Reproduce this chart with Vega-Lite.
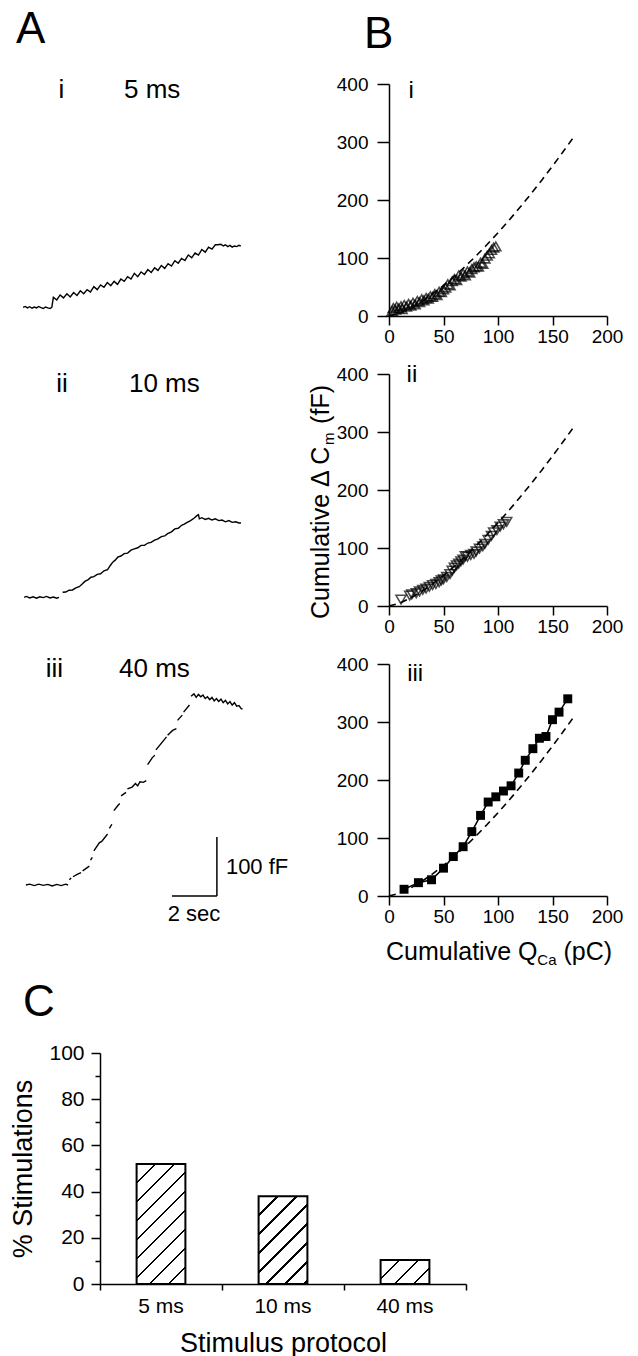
{
  "$schema": "https://vega.github.io/schema/vega-lite/v6.json",
  "background": "white",
  "padding": {"left": 9, "top": 8, "right": 5, "bottom": 0},
  "config": {
    "view": {"stroke": null},
    "font": "Liberation Sans",
    "axis": {"grid": false, "domainColor": "black", "domainWidth": 1.5, "tickColor": "black", "tickWidth": 1.5, "labelColor": "black", "titleColor": "black", "titleFontWeight": "normal", "labelFont": "Liberation Sans", "titleFont": "Liberation Sans"},
    "title": {"color": "black", "fontWeight": "normal", "font": "Liberation Sans"},
    "text": {"color": "black", "font": "Liberation Sans"}
  },
  "datasets": {
    "ai": [
      {"t":0.0,"v":0},{"t":0.1,"v":1.5},{"t":0.2,"v":-1},{"t":0.3,"v":1},{"t":0.4,"v":-1.5},{"t":0.5,"v":0.5},{"t":0.6,"v":-1},{"t":0.7,"v":1.5},{"t":0.8,"v":-0.5},{"t":0.9,"v":-2},{"t":1.0,"v":0.5},{"t":1.1,"v":-1},{"t":1.2,"v":-2},{"t":1.28,"v":0},
      {"t":1.35,"v":17},{"t":1.5,"v":12.5},{"t":1.65,"v":21},{"t":1.8,"v":16},{"t":1.95,"v":23},{"t":2.1,"v":17.6},{"t":2.25,"v":25},{"t":2.4,"v":20},{"t":2.55,"v":28},{"t":2.7,"v":23},{"t":2.85,"v":30},{"t":3.0,"v":26},{"t":3.15,"v":35},{"t":3.3,"v":30},{"t":3.45,"v":38},{"t":3.6,"v":34},{"t":3.75,"v":42},{"t":3.9,"v":36.5},{"t":4.05,"v":44},{"t":4.2,"v":39},{"t":4.35,"v":48},{"t":4.5,"v":44},{"t":4.65,"v":52},{"t":4.8,"v":48},{"t":4.95,"v":57.6},{"t":5.1,"v":52},{"t":5.25,"v":60},{"t":5.4,"v":55.7},{"t":5.55,"v":64},{"t":5.7,"v":59},{"t":5.85,"v":67},{"t":6.0,"v":62.6},{"t":6.15,"v":71},{"t":6.3,"v":66},{"t":6.45,"v":74},{"t":6.6,"v":70},{"t":6.75,"v":79},{"t":6.9,"v":74.7},{"t":7.05,"v":83},{"t":7.2,"v":79.4},{"t":7.35,"v":88.7},{"t":7.5,"v":84},{"t":7.65,"v":92},{"t":7.8,"v":88.5},{"t":7.95,"v":98},{"t":8.1,"v":93.5},{"t":8.25,"v":102},{"t":8.4,"v":98.7},{"t":8.55,"v":106},
      {"t":8.65,"v":106},{"t":8.8,"v":107},{"t":8.9,"v":104},{"t":9.0,"v":106},{"t":9.1,"v":103},{"t":9.2,"v":105},{"t":9.3,"v":102},{"t":9.4,"v":104},{"t":9.5,"v":103},{"t":9.6,"v":105},{"t":9.68,"v":104}
    ],
    "aii": [
      {"t":0.05,"v":0},{"t":0.15,"v":1.5},{"t":0.3,"v":-1},{"t":0.45,"v":1},{"t":0.6,"v":-1.5},{"t":0.75,"v":1},{"t":0.9,"v":-0.5},{"t":1.05,"v":1.5},{"t":1.2,"v":-1},{"t":1.35,"v":0.5},{"t":1.5,"v":-1.5},{"t":1.6,"v":0},
      {"t":1.68,"v":null},
      {"t":1.76,"v":8.5},{"t":1.9,"v":9},{"t":2.05,"v":12},{"t":2.2,"v":12.5},{"t":2.35,"v":16},{"t":2.5,"v":18},{"t":2.62,"v":22},{"t":2.75,"v":27},{"t":2.9,"v":30},{"t":3.02,"v":34},{"t":3.15,"v":35},{"t":3.3,"v":39},{"t":3.45,"v":40},{"t":3.6,"v":45},{"t":3.76,"v":47},{"t":3.88,"v":54},{"t":4.0,"v":60},{"t":4.1,"v":63},{"t":4.21,"v":68},{"t":4.35,"v":70},{"t":4.5,"v":74},{"t":4.65,"v":75},{"t":4.8,"v":80},{"t":4.95,"v":82},{"t":5.1,"v":84},{"t":5.25,"v":88},{"t":5.4,"v":88},{"t":5.55,"v":92},{"t":5.69,"v":93},{"t":5.85,"v":97},{"t":6.0,"v":99},{"t":6.15,"v":103},{"t":6.3,"v":104},{"t":6.43,"v":108},{"t":6.6,"v":111},{"t":6.75,"v":116},{"t":6.9,"v":117},{"t":7.05,"v":122},{"t":7.17,"v":124},{"t":7.3,"v":127},{"t":7.45,"v":130},{"t":7.6,"v":134},{"t":7.72,"v":138},{"t":7.8,"v":140},
      {"t":7.84,"v":133},{"t":7.95,"v":135},{"t":8.1,"v":132},{"t":8.25,"v":134},{"t":8.4,"v":131},{"t":8.55,"v":133},{"t":8.7,"v":130},{"t":8.85,"v":131},{"t":9.0,"v":128},{"t":9.15,"v":130},{"t":9.3,"v":127},{"t":9.45,"v":128},{"t":9.6,"v":126},{"t":9.69,"v":126}
    ],
    "aiii": [
      {"t":0.13,"v":0},{"t":0.3,"v":1.5},{"t":0.5,"v":-1},{"t":0.7,"v":1.5},{"t":0.9,"v":-0.5},{"t":1.1,"v":1},{"t":1.3,"v":-1.5},{"t":1.5,"v":1},{"t":1.7,"v":-1},{"t":1.9,"v":1.5},{"t":2.0,"v":0},
      {"t":2.03,"v":null},
      {"t":2.06,"v":9},{"t":2.14,"v":12},
      {"t":2.17,"v":null},
      {"t":2.22,"v":14},{"t":2.43,"v":18.6},{"t":2.58,"v":21},
      {"t":2.61,"v":null},
      {"t":2.65,"v":24},{"t":2.95,"v":32},
      {"t":2.98,"v":null},
      {"t":3.0,"v":42},{"t":3.08,"v":47},
      {"t":3.11,"v":null},
      {"t":3.15,"v":58},{"t":3.4,"v":72},{"t":3.5,"v":74},{"t":3.76,"v":86.4},
      {"t":3.8,"v":null},
      {"t":3.84,"v":96},{"t":3.95,"v":103},
      {"t":3.99,"v":null},
      {"t":4.04,"v":126},{"t":4.2,"v":134},{"t":4.3,"v":138},
      {"t":4.33,"v":null},
      {"t":4.36,"v":151},{"t":4.58,"v":157},
      {"t":4.61,"v":null},
      {"t":4.64,"v":163},{"t":4.85,"v":166},{"t":5.0,"v":172},{"t":5.1,"v":168},{"t":5.2,"v":175},{"t":5.35,"v":174},{"t":5.48,"v":177},
      {"t":5.51,"v":null},
      {"t":5.54,"v":204},{"t":5.75,"v":216},{"t":5.86,"v":220},
      {"t":5.89,"v":null},
      {"t":5.91,"v":229},{"t":6.1,"v":238},{"t":6.38,"v":251},
      {"t":6.41,"v":null},
      {"t":6.43,"v":254},{"t":6.65,"v":262},{"t":6.82,"v":265},
      {"t":6.85,"v":null},
      {"t":6.87,"v":279},{"t":7.08,"v":288},
      {"t":7.11,"v":null},
      {"t":7.14,"v":293},{"t":7.4,"v":305},
      {"t":7.44,"v":null},
      {"t":7.47,"v":320},{"t":7.6,"v":324},{"t":7.7,"v":318},{"t":7.8,"v":323},{"t":7.9,"v":319},{"t":8.0,"v":322},{"t":8.1,"v":316},{"t":8.2,"v":319},{"t":8.3,"v":314},{"t":8.4,"v":318},{"t":8.5,"v":312},{"t":8.6,"v":316},{"t":8.7,"v":311},{"t":8.8,"v":315},{"t":8.9,"v":309},{"t":9.0,"v":313},{"t":9.1,"v":307},{"t":9.2,"v":311},{"t":9.3,"v":305},{"t":9.4,"v":309},{"t":9.5,"v":303},{"t":9.6,"v":304},{"t":9.7,"v":299},{"t":9.76,"v":298}
    ],
    "fit": [
      {"q":0,"cm":0},{"q":10,"cm":5.1},{"q":20,"cm":13.9},{"q":30,"cm":25},{"q":40,"cm":38},{"q":50,"cm":52.5},{"q":60,"cm":68.5},{"q":70,"cm":85.6},{"q":80,"cm":103.9},{"q":90,"cm":123.2},{"q":100,"cm":143.5},{"q":110,"cm":164.8},{"q":120,"cm":187},{"q":130,"cm":210},{"q":140,"cm":233.8},{"q":150,"cm":258.4},{"q":160,"cm":283.9},{"q":170,"cm":310}
    ],
    "bi": [
      {"q":3,"cm":9},{"q":4,"cm":14},{"q":6,"cm":11},{"q":7,"cm":16},{"q":9,"cm":13},{"q":11,"cm":17},{"q":12,"cm":12},{"q":14,"cm":19},{"q":16,"cm":16},{"q":18,"cm":21},{"q":20,"cm":18},{"q":22,"cm":23},{"q":24,"cm":20},{"q":26,"cm":26},{"q":28,"cm":24},{"q":30,"cm":29},{"q":32,"cm":27},{"q":34,"cm":31},{"q":36,"cm":30},{"q":38,"cm":34},{"q":40,"cm":33},{"q":42,"cm":38},{"q":44,"cm":36},{"q":46,"cm":42},{"q":48,"cm":41},{"q":50,"cm":46},{"q":52,"cm":49},{"q":54,"cm":55},{"q":56,"cm":53},{"q":58,"cm":60},{"q":60,"cm":64},{"q":62,"cm":62},{"q":64,"cm":70},{"q":66,"cm":68},{"q":68,"cm":73},{"q":70,"cm":70},{"q":72,"cm":77},{"q":74,"cm":75},{"q":76,"cm":81},{"q":78,"cm":84},{"q":80,"cm":86},{"q":82,"cm":85},{"q":84,"cm":92},{"q":86,"cm":90},{"q":88,"cm":99},{"q":90,"cm":104},{"q":92,"cm":108},{"q":94,"cm":114},{"q":96,"cm":118},{"q":98,"cm":120}
    ],
    "bii": [
      {"q":11,"cm":11},{"q":19,"cm":18},{"q":21,"cm":20},{"q":25,"cm":22},{"q":28,"cm":25},{"q":31,"cm":28},{"q":34,"cm":30},{"q":37,"cm":33},{"q":40,"cm":36},{"q":43,"cm":38},{"q":46,"cm":41},{"q":48,"cm":44},{"q":50,"cm":46},{"q":53,"cm":50},{"q":56,"cm":55},{"q":58,"cm":61},{"q":60,"cm":66},{"q":62,"cm":70},{"q":64,"cm":73},{"q":66,"cm":77},{"q":68,"cm":80},{"q":70,"cm":86},{"q":72,"cm":85},{"q":75,"cm":88},{"q":78,"cm":90},{"q":80,"cm":94},{"q":83,"cm":99},{"q":86,"cm":103},{"q":88,"cm":107},{"q":91,"cm":114},{"q":94,"cm":121},{"q":96,"cm":127},{"q":99,"cm":131},{"q":102,"cm":137},{"q":105,"cm":141},{"q":108,"cm":145}
    ],
    "biii": [
      {"q":13.8,"cm":11.6},{"q":27,"cm":23},{"q":39,"cm":28},{"q":50,"cm":48},{"q":59,"cm":68},{"q":68,"cm":85},{"q":76,"cm":111},{"q":84,"cm":139},{"q":91,"cm":162},{"q":98,"cm":171},{"q":105,"cm":181},{"q":112,"cm":190},{"q":119,"cm":212},{"q":125,"cm":234},{"q":132,"cm":254},{"q":138,"cm":272},{"q":144,"cm":275},{"q":150,"cm":304},{"q":156,"cm":317},{"q":164,"cm":340}
    ],
    "stim": [
      {"protocol":"5 ms","pct":52},{"protocol":"10 ms","pct":38},{"protocol":"40 ms","pct":10.4}
    ]
  },
  "columns": 1,
  "spacing": 12,
  "concat": [
    {
      "columns": 2,
      "spacing": {"row": 58, "column": 146},
      "bounds": "flush",
      "concat": [
        {
          "width": 220, "height": 232,
          "title": {"text": "A", "fontSize": 44, "anchor": "start", "frame": "group", "dx": -7, "offset": 25},
          "layer": [
            {"data": {"name": "ai"}, "mark": {"type": "line", "color": "black", "strokeWidth": 1.4},
             "encoding": {"x": {"field": "t", "type": "quantitative", "scale": {"domain": [0, 9.78], "nice": false, "zero": false}, "axis": null},
                          "y": {"field": "v", "type": "quantitative", "scale": {"domain": [-14.7, 378.5], "nice": false, "zero": false}, "axis": null}}},
            {"data": {"values": [{}]}, "mark": {"type": "text", "fontSize": 26, "align": "center", "baseline": "alphabetic"},
             "encoding": {"x": {"datum": 1.71}, "y": {"datum": 354.7}, "text": {"value": "i"}}},
            {"data": {"values": [{}]}, "mark": {"type": "text", "fontSize": 26, "align": "left", "baseline": "alphabetic"},
             "encoding": {"x": {"datum": 4.49}, "y": {"datum": 354.7}, "text": {"value": "5 ms"}}}
          ]
        },
        {
          "width": 218, "height": 232,
          "title": {"text": "B", "fontSize": 44, "anchor": "start", "frame": "group", "dx": -25, "offset": 18},
          "layer": [
            {"data": {"name": "fit"}, "mark": {"type": "line", "color": "black", "strokeDash": [7, 5], "strokeWidth": 1.6},
             "encoding": {
               "x": {"field": "q", "type": "quantitative", "scale": {"domain": [0, 200], "nice": false},
                     "axis": {"title": null, "values": [0,25,50,75,100,125,150,175,200], "labelExpr": "datum.value % 50 === 0 ? datum.label : ''", "tickSize": {"condition": {"test": "datum.value % 50 === 0", "value": 9}, "value": 5}, "labelFontSize": 19, "labelPadding": 2, "labelFlush": false}},
               "y": {"field": "cm", "type": "quantitative", "scale": {"domain": [0, 400], "nice": false},
                     "axis": {"title": null, "values": [0,50,100,150,200,250,300,350,400], "labelExpr": "datum.value % 100 === 0 ? datum.label : ''", "tickSize": {"condition": {"test": "datum.value % 100 === 0", "value": 12}, "value": 5}, "labelFontSize": 19, "labelPadding": 9, "labelFlush": false}}}},
            {"data": {"name": "bi"}, "mark": {"type": "point", "shape": "triangle-up", "size": 100, "color": "black", "filled": false, "strokeWidth": 1.6},
             "encoding": {"x": {"field": "q", "type": "quantitative"}, "y": {"field": "cm", "type": "quantitative"}}},
            {"data": {"values": [{}]}, "mark": {"type": "text", "fontSize": 24, "align": "center", "baseline": "alphabetic"},
             "encoding": {"x": {"datum": 20.3}, "y": {"datum": 376}, "text": {"value": "i"}}}
          ]
        },
        {
          "width": 220, "height": 232,
          "layer": [
            {"data": {"name": "aii"}, "mark": {"type": "line", "color": "black", "strokeWidth": 1.4},
             "encoding": {"x": {"field": "t", "type": "quantitative", "scale": {"domain": [0, 9.78], "nice": false, "zero": false}, "axis": null},
                          "y": {"field": "v", "type": "quantitative", "scale": {"domain": [-14.7, 378.5], "nice": false, "zero": false}, "axis": null}}},
            {"data": {"values": [{}]}, "mark": {"type": "text", "fontSize": 26, "align": "center", "baseline": "alphabetic"},
             "encoding": {"x": {"datum": 1.73}, "y": {"datum": 347.5}, "text": {"value": "ii"}}},
            {"data": {"values": [{}]}, "mark": {"type": "text", "fontSize": 26, "align": "left", "baseline": "alphabetic"},
             "encoding": {"x": {"datum": 4.71}, "y": {"datum": 347.5}, "text": {"value": "10 ms"}}}
          ]
        },
        {
          "width": 218, "height": 232,
          "layer": [
            {"data": {"name": "fit"}, "mark": {"type": "line", "color": "black", "strokeDash": [7, 5], "strokeWidth": 1.6},
             "encoding": {
               "x": {"field": "q", "type": "quantitative", "scale": {"domain": [0, 200], "nice": false},
                     "axis": {"title": null, "values": [0,25,50,75,100,125,150,175,200], "labelExpr": "datum.value % 50 === 0 ? datum.label : ''", "tickSize": {"condition": {"test": "datum.value % 50 === 0", "value": 9}, "value": 5}, "labelFontSize": 19, "labelPadding": 2, "labelFlush": false}},
               "y": {"field": "cm", "type": "quantitative", "scale": {"domain": [0, 400], "nice": false},
                     "axis": {"title": null, "values": [0,50,100,150,200,250,300,350,400], "labelExpr": "datum.value % 100 === 0 ? datum.label : ''", "tickSize": {"condition": {"test": "datum.value % 100 === 0", "value": 12}, "value": 5}, "labelFontSize": 19, "labelPadding": 9, "labelFlush": false}}}},
            {"data": {"name": "bii"}, "mark": {"type": "point", "shape": "triangle-down", "size": 100, "color": "black", "filled": false, "strokeWidth": 1.6},
             "encoding": {"x": {"field": "q", "type": "quantitative"}, "y": {"field": "cm", "type": "quantitative"}}},
            {"data": {"values": [{}]}, "mark": {"type": "text", "fontSize": 24, "align": "center", "baseline": "alphabetic"},
             "encoding": {"x": {"datum": 21}, "y": {"datum": 386}, "text": {"value": "ii"}}},
            {"data": {"values": [{}]}, "mark": {"type": "text", "fontSize": 25, "align": "left", "baseline": "alphabetic", "angle": 270},
             "encoding": {"x": {"datum": -55}, "y": {"datum": -22.4}, "text": {"value": "Cumulative Δ C"}}},
            {"data": {"values": [{}]}, "mark": {"type": "text", "fontSize": 15, "align": "left", "baseline": "alphabetic", "angle": 270},
             "encoding": {"x": {"datum": -50.4}, "y": {"datum": 277.6}, "text": {"value": "m"}}},
            {"data": {"values": [{}]}, "mark": {"type": "text", "fontSize": 25, "align": "left", "baseline": "alphabetic", "angle": 270},
             "encoding": {"x": {"datum": -55}, "y": {"datum": 314}, "text": {"value": "(fF)"}}}
          ]
        },
        {
          "width": 220, "height": 232,
          "layer": [
            {"data": {"name": "aiii"}, "mark": {"type": "line", "color": "black", "strokeWidth": 1.4},
             "encoding": {"x": {"field": "t", "type": "quantitative", "scale": {"domain": [0, 9.78], "nice": false, "zero": false}, "axis": null},
                          "y": {"field": "v", "type": "quantitative", "scale": {"domain": [-18.6, 374.6], "nice": false, "zero": false}, "axis": null}}},
            {"data": {"values": [{}]}, "mark": {"type": "text", "fontSize": 26, "align": "center", "baseline": "alphabetic"},
             "encoding": {"x": {"datum": 1.4}, "y": {"datum": 352}, "text": {"value": "iii"}}},
            {"data": {"values": [{}]}, "mark": {"type": "text", "fontSize": 26, "align": "left", "baseline": "alphabetic"},
             "encoding": {"x": {"datum": 4.27}, "y": {"datum": 352}, "text": {"value": "40 ms"}}},
            {"data": {"values": [{}]}, "mark": {"type": "rule", "color": "black", "strokeWidth": 1.5},
             "encoding": {"x": {"datum": 6.62}, "x2": {"datum": 8.62}, "y": {"datum": -18.6}}},
            {"data": {"values": [{}]}, "mark": {"type": "rule", "color": "black", "strokeWidth": 1.5},
             "encoding": {"x": {"datum": 8.62}, "y": {"datum": -18.6}, "y2": {"datum": 81.4}}},
            {"data": {"values": [{}]}, "mark": {"type": "text", "fontSize": 22, "align": "left", "baseline": "middle"},
             "encoding": {"x": {"datum": 9.02}, "y": {"datum": 30.5}, "text": {"value": "100 fF"}}},
            {"data": {"values": [{}]}, "mark": {"type": "text", "fontSize": 22, "align": "center", "baseline": "middle"},
             "encoding": {"x": {"datum": 7.6}, "y": {"datum": -49.2}, "text": {"value": "2 sec"}}}
          ]
        },
        {
          "width": 218, "height": 232,
          "layer": [
            {"data": {"name": "fit"}, "mark": {"type": "line", "color": "black", "strokeDash": [7, 5], "strokeWidth": 1.6},
             "encoding": {
               "x": {"field": "q", "type": "quantitative", "scale": {"domain": [0, 200], "nice": false},
                     "axis": {"title": null, "values": [0,25,50,75,100,125,150,175,200], "labelExpr": "datum.value % 50 === 0 ? datum.label : ''", "tickSize": {"condition": {"test": "datum.value % 50 === 0", "value": 9}, "value": 5}, "labelFontSize": 19, "labelPadding": 2, "labelFlush": false}},
               "y": {"field": "cm", "type": "quantitative", "scale": {"domain": [0, 400], "nice": false},
                     "axis": {"title": null, "values": [0,50,100,150,200,250,300,350,400], "labelExpr": "datum.value % 100 === 0 ? datum.label : ''", "tickSize": {"condition": {"test": "datum.value % 100 === 0", "value": 12}, "value": 5}, "labelFontSize": 19, "labelPadding": 9, "labelFlush": false}}}},
            {"data": {"name": "biii"}, "mark": {"type": "line", "color": "black", "strokeWidth": 1.5, "point": {"shape": "square", "size": 80, "filled": true, "color": "black"}},
             "encoding": {"x": {"field": "q", "type": "quantitative"}, "y": {"field": "cm", "type": "quantitative"}}},
            {"data": {"values": [{}]}, "mark": {"type": "text", "fontSize": 24, "align": "center", "baseline": "alphabetic"},
             "encoding": {"x": {"datum": 24}, "y": {"datum": 371}, "text": {"value": "iii"}}},
            {"data": {"values": [{}]}, "mark": {"type": "text", "fontSize": 25, "align": "left", "baseline": "alphabetic"},
             "encoding": {"x": {"datum": -2.75}, "y": {"datum": -110.3}, "text": {"value": "Cumulative Q"}}},
            {"data": {"values": [{}]}, "mark": {"type": "text", "fontSize": 15, "align": "left", "baseline": "alphabetic"},
             "encoding": {"x": {"datum": 136.1}, "y": {"datum": -119}, "text": {"value": "Ca"}}},
            {"data": {"values": [{}]}, "mark": {"type": "text", "fontSize": 25, "align": "left", "baseline": "alphabetic"},
             "encoding": {"x": {"datum": 160}, "y": {"datum": -110.3}, "text": {"value": "(pC)"}}}
          ]
        }
      ]
    },
    {
      "width": 443, "height": 231,
      "title": {"text": "C", "fontSize": 44, "anchor": "start", "frame": "group", "dx": 0, "offset": 17},
      "data": {"name": "stim"},
      "encoding": {
        "x": {"field": "protocol", "type": "nominal", "scale": {"domain": ["5 ms", "10 ms", "40 ms"], "paddingInner": 0, "paddingOuter": 0, "range": [77, 443]},
              "axis": {"title": "Stimulus protocol", "titleFontSize": 27, "labelFontSize": 21, "labelAngle": 0, "bandPosition": 1, "tickExtra": true, "tickSize": 6, "labelPadding": 5, "titlePadding": 14}},
        "y": {"field": "pct", "type": "quantitative", "scale": {"domain": [0, 100], "nice": false},
              "axis": {"title": "% Stimulations", "offset": -77, "values": [0,10,20,30,40,50,60,70,80,90,100], "labelExpr": "datum.value % 20 === 0 ? datum.label : ''", "tickSize": {"condition": {"test": "datum.value % 20 === 0", "value": 9}, "value": 5}, "labelFontSize": 21, "titleFontSize": 27, "labelPadding": 7, "titlePadding": 11, "labelFlush": false}}
      },
      "layer": [
        {"transform": [{"filter": "datum.protocol === '5 ms'"}],
         "mark": {"type": "bar", "width": {"band": 0.4}, "stroke": "black", "strokeWidth": 2,
                  "fill": {"gradient": "linear", "x1": 0, "y1": 0, "x2": 0.49, "y2": 1.207, "stops": [
                    {"offset": 0, "color": "white"},
                    {"offset": 0.105, "color": "white"}, {"offset": 0.105, "color": "black"}, {"offset": 0.12, "color": "black"}, {"offset": 0.12, "color": "white"},
                    {"offset": 0.2175, "color": "white"}, {"offset": 0.2175, "color": "black"}, {"offset": 0.2325, "color": "black"}, {"offset": 0.2325, "color": "white"},
                    {"offset": 0.33, "color": "white"}, {"offset": 0.33, "color": "black"}, {"offset": 0.345, "color": "black"}, {"offset": 0.345, "color": "white"},
                    {"offset": 0.4425, "color": "white"}, {"offset": 0.4425, "color": "black"}, {"offset": 0.4575, "color": "black"}, {"offset": 0.4575, "color": "white"},
                    {"offset": 0.555, "color": "white"}, {"offset": 0.555, "color": "black"}, {"offset": 0.57, "color": "black"}, {"offset": 0.57, "color": "white"},
                    {"offset": 0.6675, "color": "white"}, {"offset": 0.6675, "color": "black"}, {"offset": 0.6825, "color": "black"}, {"offset": 0.6825, "color": "white"},
                    {"offset": 0.78, "color": "white"}, {"offset": 0.78, "color": "black"}, {"offset": 0.795, "color": "black"}, {"offset": 0.795, "color": "white"},
                    {"offset": 0.8925, "color": "white"}, {"offset": 0.8925, "color": "black"}, {"offset": 0.9075, "color": "black"}, {"offset": 0.9075, "color": "white"},
                    {"offset": 1, "color": "white"}]}}},
        {"transform": [{"filter": "datum.protocol === '10 ms'"}],
         "mark": {"type": "bar", "width": {"band": 0.4}, "stroke": "black", "strokeWidth": 2,
                  "fill": {"gradient": "linear", "x1": 0, "y1": 0, "x2": 0.661, "y2": 1.189, "stops": [
                    {"offset": 0, "color": "white"},
                    {"offset": 0.1298, "color": "white"}, {"offset": 0.1298, "color": "black"}, {"offset": 0.1484, "color": "black"}, {"offset": 0.1484, "color": "white"},
                    {"offset": 0.2689, "color": "white"}, {"offset": 0.2689, "color": "black"}, {"offset": 0.2875, "color": "black"}, {"offset": 0.2875, "color": "white"},
                    {"offset": 0.408, "color": "white"}, {"offset": 0.408, "color": "black"}, {"offset": 0.4266, "color": "black"}, {"offset": 0.4266, "color": "white"},
                    {"offset": 0.5471, "color": "white"}, {"offset": 0.5471, "color": "black"}, {"offset": 0.5657, "color": "black"}, {"offset": 0.5657, "color": "white"},
                    {"offset": 0.6862, "color": "white"}, {"offset": 0.6862, "color": "black"}, {"offset": 0.7048, "color": "black"}, {"offset": 0.7048, "color": "white"},
                    {"offset": 0.8253, "color": "white"}, {"offset": 0.8253, "color": "black"}, {"offset": 0.8439, "color": "black"}, {"offset": 0.8439, "color": "white"},
                    {"offset": 0.9644, "color": "white"}, {"offset": 0.9644, "color": "black"}, {"offset": 0.983, "color": "black"}, {"offset": 0.983, "color": "white"},
                    {"offset": 1, "color": "white"}]}}},
        {"transform": [{"filter": "datum.protocol === '40 ms'"}],
         "mark": {"type": "bar", "width": {"band": 0.4}, "stroke": "black", "strokeWidth": 2,
                  "fill": {"gradient": "linear", "x1": 0, "y1": 0, "x2": 1.202, "y2": 0.591, "stops": [
                    {"offset": 0, "color": "white"},
                    {"offset": 0.2436, "color": "white"}, {"offset": 0.2436, "color": "black"}, {"offset": 0.2784, "color": "black"}, {"offset": 0.2784, "color": "white"},
                    {"offset": 0.5046, "color": "white"}, {"offset": 0.5046, "color": "black"}, {"offset": 0.5394, "color": "black"}, {"offset": 0.5394, "color": "white"},
                    {"offset": 0.7656, "color": "white"}, {"offset": 0.7656, "color": "black"}, {"offset": 0.8004, "color": "black"}, {"offset": 0.8004, "color": "white"},
                    {"offset": 1, "color": "white"}]}}}
      ]
    }
  ]
}
